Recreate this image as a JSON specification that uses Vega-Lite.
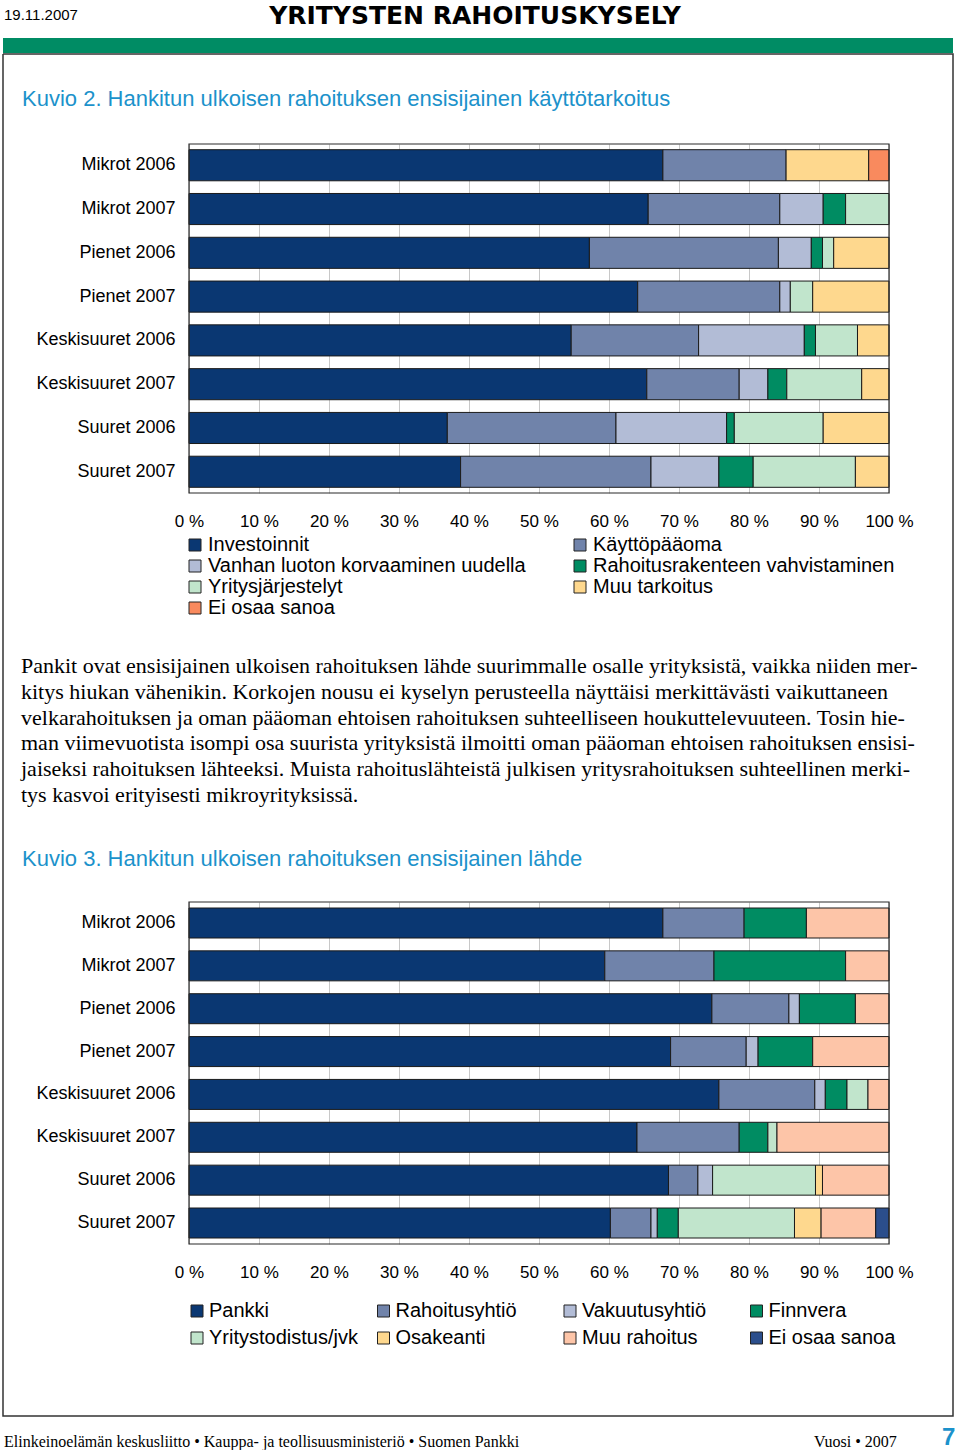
{
  "$schema": "https://vega.github.io/schema/vega-lite/v6.json",
  "background": "white",
  "padding": {"left": 2, "top": 0, "right": 0, "bottom": 0},
  "config": {"view": {"stroke": null}, "font": "Liberation Sans"},
  "datasets": {
    "jarjestys2": [
      {"kohde": "Investoinnit", "j": 1},
      {"kohde": "Käyttöpääoma", "j": 2},
      {"kohde": "Vanhan luoton korvaaminen uudella", "j": 3},
      {"kohde": "Rahoitusrakenteen vahvistaminen", "j": 4},
      {"kohde": "Yritysjärjestelyt", "j": 5},
      {"kohde": "Muu tarkoitus", "j": 6},
      {"kohde": "Ei osaa sanoa", "j": 7}
    ],
    "jarjestys3": [
      {"kohde": "Pankki", "j": 1},
      {"kohde": "Rahoitusyhtiö", "j": 2},
      {"kohde": "Vakuutusyhtiö", "j": 3},
      {"kohde": "Finnvera", "j": 4},
      {"kohde": "Yritystodistus/jvk", "j": 5},
      {"kohde": "Osakeanti", "j": 6},
      {"kohde": "Muu rahoitus", "j": 7},
      {"kohde": "Ei osaa sanoa", "j": 8}
    ],
    "kuvio2": [
      {"ryhma": "Mikrot 2006", "kohde": "Investoinnit", "osuus": 67.7},
      {"ryhma": "Mikrot 2006", "kohde": "Käyttöpääoma", "osuus": 17.6},
      {"ryhma": "Mikrot 2006", "kohde": "Muu tarkoitus", "osuus": 11.8},
      {"ryhma": "Mikrot 2006", "kohde": "Ei osaa sanoa", "osuus": 2.9},
      {"ryhma": "Mikrot 2007", "kohde": "Investoinnit", "osuus": 65.6},
      {"ryhma": "Mikrot 2007", "kohde": "Käyttöpääoma", "osuus": 18.8},
      {"ryhma": "Mikrot 2007", "kohde": "Vanhan luoton korvaaminen uudella", "osuus": 6.2},
      {"ryhma": "Mikrot 2007", "kohde": "Rahoitusrakenteen vahvistaminen", "osuus": 3.2},
      {"ryhma": "Mikrot 2007", "kohde": "Yritysjärjestelyt", "osuus": 6.2},
      {"ryhma": "Pienet 2006", "kohde": "Investoinnit", "osuus": 57.2},
      {"ryhma": "Pienet 2006", "kohde": "Käyttöpääoma", "osuus": 27.0},
      {"ryhma": "Pienet 2006", "kohde": "Vanhan luoton korvaaminen uudella", "osuus": 4.7},
      {"ryhma": "Pienet 2006", "kohde": "Rahoitusrakenteen vahvistaminen", "osuus": 1.6},
      {"ryhma": "Pienet 2006", "kohde": "Yritysjärjestelyt", "osuus": 1.6},
      {"ryhma": "Pienet 2006", "kohde": "Muu tarkoitus", "osuus": 7.9},
      {"ryhma": "Pienet 2007", "kohde": "Investoinnit", "osuus": 64.1},
      {"ryhma": "Pienet 2007", "kohde": "Käyttöpääoma", "osuus": 20.3},
      {"ryhma": "Pienet 2007", "kohde": "Vanhan luoton korvaaminen uudella", "osuus": 1.5},
      {"ryhma": "Pienet 2007", "kohde": "Yritysjärjestelyt", "osuus": 3.2},
      {"ryhma": "Pienet 2007", "kohde": "Muu tarkoitus", "osuus": 10.9},
      {"ryhma": "Keskisuuret 2006", "kohde": "Investoinnit", "osuus": 54.6},
      {"ryhma": "Keskisuuret 2006", "kohde": "Käyttöpääoma", "osuus": 18.2},
      {"ryhma": "Keskisuuret 2006", "kohde": "Vanhan luoton korvaaminen uudella", "osuus": 15.1},
      {"ryhma": "Keskisuuret 2006", "kohde": "Rahoitusrakenteen vahvistaminen", "osuus": 1.6},
      {"ryhma": "Keskisuuret 2006", "kohde": "Yritysjärjestelyt", "osuus": 6.0},
      {"ryhma": "Keskisuuret 2006", "kohde": "Muu tarkoitus", "osuus": 4.5},
      {"ryhma": "Keskisuuret 2007", "kohde": "Investoinnit", "osuus": 65.4},
      {"ryhma": "Keskisuuret 2007", "kohde": "Käyttöpääoma", "osuus": 13.2},
      {"ryhma": "Keskisuuret 2007", "kohde": "Vanhan luoton korvaaminen uudella", "osuus": 4.1},
      {"ryhma": "Keskisuuret 2007", "kohde": "Rahoitusrakenteen vahvistaminen", "osuus": 2.7},
      {"ryhma": "Keskisuuret 2007", "kohde": "Yritysjärjestelyt", "osuus": 10.7},
      {"ryhma": "Keskisuuret 2007", "kohde": "Muu tarkoitus", "osuus": 3.9},
      {"ryhma": "Suuret 2006", "kohde": "Investoinnit", "osuus": 36.9},
      {"ryhma": "Suuret 2006", "kohde": "Käyttöpääoma", "osuus": 24.1},
      {"ryhma": "Suuret 2006", "kohde": "Vanhan luoton korvaaminen uudella", "osuus": 15.8},
      {"ryhma": "Suuret 2006", "kohde": "Rahoitusrakenteen vahvistaminen", "osuus": 1.1},
      {"ryhma": "Suuret 2006", "kohde": "Yritysjärjestelyt", "osuus": 12.7},
      {"ryhma": "Suuret 2006", "kohde": "Muu tarkoitus", "osuus": 9.4},
      {"ryhma": "Suuret 2007", "kohde": "Investoinnit", "osuus": 38.8},
      {"ryhma": "Suuret 2007", "kohde": "Käyttöpääoma", "osuus": 27.2},
      {"ryhma": "Suuret 2007", "kohde": "Vanhan luoton korvaaminen uudella", "osuus": 9.7},
      {"ryhma": "Suuret 2007", "kohde": "Rahoitusrakenteen vahvistaminen", "osuus": 4.9},
      {"ryhma": "Suuret 2007", "kohde": "Yritysjärjestelyt", "osuus": 14.6},
      {"ryhma": "Suuret 2007", "kohde": "Muu tarkoitus", "osuus": 4.8}
    ],
    "kuvio3": [
      {"ryhma": "Mikrot 2006", "kohde": "Pankki", "osuus": 67.7},
      {"ryhma": "Mikrot 2006", "kohde": "Rahoitusyhtiö", "osuus": 11.6},
      {"ryhma": "Mikrot 2006", "kohde": "Finnvera", "osuus": 8.9},
      {"ryhma": "Mikrot 2006", "kohde": "Muu rahoitus", "osuus": 11.8},
      {"ryhma": "Mikrot 2007", "kohde": "Pankki", "osuus": 59.4},
      {"ryhma": "Mikrot 2007", "kohde": "Rahoitusyhtiö", "osuus": 15.6},
      {"ryhma": "Mikrot 2007", "kohde": "Finnvera", "osuus": 18.8},
      {"ryhma": "Mikrot 2007", "kohde": "Muu rahoitus", "osuus": 6.2},
      {"ryhma": "Pienet 2006", "kohde": "Pankki", "osuus": 74.7},
      {"ryhma": "Pienet 2006", "kohde": "Rahoitusyhtiö", "osuus": 11.0},
      {"ryhma": "Pienet 2006", "kohde": "Vakuutusyhtiö", "osuus": 1.5},
      {"ryhma": "Pienet 2006", "kohde": "Finnvera", "osuus": 8.0},
      {"ryhma": "Pienet 2006", "kohde": "Muu rahoitus", "osuus": 4.8},
      {"ryhma": "Pienet 2007", "kohde": "Pankki", "osuus": 68.8},
      {"ryhma": "Pienet 2007", "kohde": "Rahoitusyhtiö", "osuus": 10.8},
      {"ryhma": "Pienet 2007", "kohde": "Vakuutusyhtiö", "osuus": 1.7},
      {"ryhma": "Pienet 2007", "kohde": "Finnvera", "osuus": 7.8},
      {"ryhma": "Pienet 2007", "kohde": "Muu rahoitus", "osuus": 10.9},
      {"ryhma": "Keskisuuret 2006", "kohde": "Pankki", "osuus": 75.7},
      {"ryhma": "Keskisuuret 2006", "kohde": "Rahoitusyhtiö", "osuus": 13.7},
      {"ryhma": "Keskisuuret 2006", "kohde": "Vakuutusyhtiö", "osuus": 1.5},
      {"ryhma": "Keskisuuret 2006", "kohde": "Finnvera", "osuus": 3.1},
      {"ryhma": "Keskisuuret 2006", "kohde": "Yritystodistus/jvk", "osuus": 3.0},
      {"ryhma": "Keskisuuret 2006", "kohde": "Muu rahoitus", "osuus": 3.0},
      {"ryhma": "Keskisuuret 2007", "kohde": "Pankki", "osuus": 64.0},
      {"ryhma": "Keskisuuret 2007", "kohde": "Rahoitusyhtiö", "osuus": 14.6},
      {"ryhma": "Keskisuuret 2007", "kohde": "Finnvera", "osuus": 4.1},
      {"ryhma": "Keskisuuret 2007", "kohde": "Yritystodistus/jvk", "osuus": 1.3},
      {"ryhma": "Keskisuuret 2007", "kohde": "Muu rahoitus", "osuus": 16.0},
      {"ryhma": "Suuret 2006", "kohde": "Pankki", "osuus": 68.5},
      {"ryhma": "Suuret 2006", "kohde": "Rahoitusyhtiö", "osuus": 4.2},
      {"ryhma": "Suuret 2006", "kohde": "Vakuutusyhtiö", "osuus": 2.1},
      {"ryhma": "Suuret 2006", "kohde": "Yritystodistus/jvk", "osuus": 14.7},
      {"ryhma": "Suuret 2006", "kohde": "Osakeanti", "osuus": 1.0},
      {"ryhma": "Suuret 2006", "kohde": "Muu rahoitus", "osuus": 9.5},
      {"ryhma": "Suuret 2007", "kohde": "Pankki", "osuus": 60.2},
      {"ryhma": "Suuret 2007", "kohde": "Rahoitusyhtiö", "osuus": 5.8},
      {"ryhma": "Suuret 2007", "kohde": "Vakuutusyhtiö", "osuus": 0.9},
      {"ryhma": "Suuret 2007", "kohde": "Finnvera", "osuus": 3.0},
      {"ryhma": "Suuret 2007", "kohde": "Yritystodistus/jvk", "osuus": 16.6},
      {"ryhma": "Suuret 2007", "kohde": "Osakeanti", "osuus": 3.8},
      {"ryhma": "Suuret 2007", "kohde": "Muu rahoitus", "osuus": 7.8},
      {"ryhma": "Suuret 2007", "kohde": "Ei osaa sanoa", "osuus": 1.9}
    ]
  },
  "spacing": 0,
  "resolve": {"scale": {"x": "independent", "y": "independent", "color": "independent"}, "legend": {"color": "independent"}},
  "vconcat": [
    {
      "hconcat": [
        {
          "width": 240, "height": 38,
          "data": {"values": [{}]},
          "mark": {"type": "text", "text": ""},
          "encoding": {},
          "title": {"text": "19.11.2007", "anchor": "start", "frame": "group", "dx": 1, "offset": -35, "baseline": "alphabetic", "font": "Liberation Sans", "fontSize": 15, "fontWeight": "normal", "color": "black"}
        },
        {
          "width": 464, "height": 38,
          "data": {"values": [{}]},
          "mark": {"type": "text", "text": ""},
          "encoding": {},
          "title": {"text": "YRITYSTEN RAHOITUSKYSELY", "anchor": "middle", "frame": "group", "offset": -49, "baseline": "alphabetic", "font": "DejaVu Sans", "fontSize": 25, "fontWeight": "bold", "color": "black"}
        }
      ],
      "spacing": 0,
      "bounds": "flush"
    },
    {
      "width": 950, "height": 15,
      "data": {"values": [{}]},
      "mark": {"type": "text", "text": ""},
      "encoding": {},
      "view": {"fill": "#008C64", "stroke": null}
    },
    {
      "vconcat": [
        {
          "width": 950, "height": 90,
          "data": {"values": [{}]},
          "mark": {"type": "text", "text": ""},
          "encoding": {},
          "view": {"stroke": "#333333", "strokeWidth": 1.5, "strokeDash": [1040, 950, 90, 0]}
        },
        {
          "width": 950, "height": 349,
          "view": {"stroke": "#333333", "strokeWidth": 1.5, "strokeDash": [0, 950, 349, 950, 349, 0]},
          "title": {"text": "Kuvio 2. Hankitun ulkoisen rahoituksen ensisijainen käyttötarkoitus", "anchor": "start", "frame": "group", "dx": 19, "offset": 15, "baseline": "alphabetic", "font": "Liberation Sans", "fontSize": 22, "fontWeight": "normal", "color": "#1C92CB"},
          "layer": [
            {
              "data": {"name": "kuvio2"},
              "transform": [{"lookup": "kohde", "from": {"data": {"name": "jarjestys2"}, "key": "kohde", "fields": ["j"]}}],
              "mark": {"type": "bar", "stroke": "#1a1a1a", "strokeWidth": 1},
              "encoding": {
                "y": {"field": "ryhma", "type": "nominal", "sort": ["Mikrot 2006", "Mikrot 2007", "Pienet 2006", "Pienet 2007", "Keskisuuret 2006", "Keskisuuret 2007", "Suuret 2006", "Suuret 2007"], "scale": {"paddingInner": 0.29, "paddingOuter": 0.13}, "axis": {"title": null, "domain": false, "ticks": false, "tickSize": 0, "offset": -186, "labelPadding": 14, "labelFontSize": 18, "labelFont": "Liberation Sans", "labelColor": "black", "grid": false}},
                "x": {"field": "osuus", "type": "quantitative", "stack": "zero", "scale": {"domain": [-26.5714, 109.1429], "nice": false, "zero": false}, "axis": {"title": null, "values": [0, 10, 20, 30, 40, 50, 60, 70, 80, 90, 100], "labelExpr": "datum.value + ' %'", "grid": true, "gridColor": "#c8c8c8", "gridWidth": 1, "domain": false, "ticks": false, "tickSize": 0, "labelPadding": 20, "labelFontSize": 17, "labelFont": "Liberation Sans", "labelColor": "black", "labelFlush": false, "labelOverlap": false}},
                "order": {"field": "j", "type": "quantitative"},
                "color": {"field": "kohde", "type": "nominal", "sort": ["Investoinnit", "Käyttöpääoma", "Vanhan luoton korvaaminen uudella", "Rahoitusrakenteen vahvistaminen", "Yritysjärjestelyt", "Muu tarkoitus", "Ei osaa sanoa"], "scale": {"domain": ["Investoinnit", "Käyttöpääoma", "Vanhan luoton korvaaminen uudella", "Rahoitusrakenteen vahvistaminen", "Yritysjärjestelyt", "Muu tarkoitus", "Ei osaa sanoa"], "range": ["#0A3772", "#7083AA", "#B2BCD6", "#008C62", "#C1E5CC", "#FED88E", "#F98A5E"]}, "legend": {"title": null, "orient": "none", "direction": "horizontal", "legendX": 182, "legendY": 391, "columns": 2, "columnPadding": 44, "rowPadding": 1, "padding": 0, "symbolType": "square", "symbolSize": 144, "symbolStrokeColor": "#222222", "symbolStrokeWidth": 1, "symbolOpacity": 1, "labelFontSize": 20, "labelFont": "Liberation Sans", "labelColor": "black", "labelOffset": 3, "labelLimit": 600}}
              }
            },
            {
              "data": {"values": [{}]},
              "mark": {"type": "rect", "fill": "transparent", "stroke": "#2a2a2a", "strokeWidth": 1.2},
              "encoding": {"x": {"datum": 0}, "x2": {"datum": 100}}
            }
          ]
        },
        {
          "width": 950, "height": 409,
          "data": {"values": [{}]},
          "mark": {"type": "text", "text": ""},
          "encoding": {},
          "view": {"stroke": "#333333", "strokeWidth": 1.5, "strokeDash": [0, 950, 409, 950, 409, 0]},
          "title": {
            "text": [
              "Pankit ovat ensisijainen ulkoisen rahoituksen lähde suurimmalle osalle yrityksistä, vaikka niiden mer-",
              "kitys hiukan vähenikin. Korkojen nousu ei kyselyn perusteella näyttäisi merkittävästi vaikuttaneen",
              "velkarahoituksen ja oman pääoman ehtoisen rahoituksen suhteelliseen houkuttelevuuteen. Tosin hie-",
              "man viimevuotista isompi osa suurista yrityksistä ilmoitti oman pääoman ehtoisen rahoituksen ensisi-",
              "jaiseksi rahoituksen lähteeksi. Muista rahoituslähteistä julkisen yritysrahoituksen suhteellinen merki-",
              "tys kasvoi erityisesti mikroyrityksissä."
            ],
            "anchor": "start", "frame": "group", "dx": 18, "offset": -314, "baseline": "top", "lineHeight": 25.8,
            "font": "Liberation Serif", "fontSize": 22, "fontWeight": "normal", "color": "black"
          }
        },
        {
          "width": 950, "height": 342,
          "view": {"stroke": "#333333", "strokeWidth": 1.5, "strokeDash": [0, 950, 342, 950, 342, 0]},
          "title": {"text": "Kuvio 3. Hankitun ulkoisen rahoituksen ensisijainen lähde", "anchor": "start", "frame": "group", "dx": 19, "offset": 13, "baseline": "alphabetic", "font": "Liberation Sans", "fontSize": 22, "fontWeight": "normal", "color": "#1C92CB"},
          "layer": [
            {
              "data": {"name": "kuvio3"},
              "transform": [{"lookup": "kohde", "from": {"data": {"name": "jarjestys3"}, "key": "kohde", "fields": ["j"]}}],
              "mark": {"type": "bar", "stroke": "#1a1a1a", "strokeWidth": 1},
              "encoding": {
                "y": {"field": "ryhma", "type": "nominal", "sort": ["Mikrot 2006", "Mikrot 2007", "Pienet 2006", "Pienet 2007", "Keskisuuret 2006", "Keskisuuret 2007", "Suuret 2006", "Suuret 2007"], "scale": {"paddingInner": 0.3, "paddingOuter": 0.14}, "axis": {"title": null, "domain": false, "ticks": false, "tickSize": 0, "offset": -186, "labelPadding": 14, "labelFontSize": 18, "labelFont": "Liberation Sans", "labelColor": "black", "grid": false}},
                "x": {"field": "osuus", "type": "quantitative", "stack": "zero", "scale": {"domain": [-26.5714, 109.1429], "nice": false, "zero": false}, "axis": {"title": null, "values": [0, 10, 20, 30, 40, 50, 60, 70, 80, 90, 100], "labelExpr": "datum.value + ' %'", "grid": true, "gridColor": "#c8c8c8", "gridWidth": 1, "domain": false, "ticks": false, "tickSize": 0, "labelPadding": 20, "labelFontSize": 17, "labelFont": "Liberation Sans", "labelColor": "black", "labelFlush": false, "labelOverlap": false}},
                "order": {"field": "j", "type": "quantitative"},
                "color": {"field": "kohde", "type": "nominal", "sort": ["Pankki", "Rahoitusyhtiö", "Vakuutusyhtiö", "Finnvera", "Yritystodistus/jvk", "Osakeanti", "Muu rahoitus", "Ei osaa sanoa"], "scale": {"domain": ["Pankki", "Rahoitusyhtiö", "Vakuutusyhtiö", "Finnvera", "Yritystodistus/jvk", "Osakeanti", "Muu rahoitus", "Ei osaa sanoa"], "range": ["#0A3772", "#7083AA", "#B2BCD6", "#008C62", "#C1E5CC", "#FED88E", "#FDC5A8", "#2B4E8C"]}, "legend": {"title": null, "orient": "none", "direction": "horizontal", "legendX": 184, "legendY": 399, "columns": 4, "gridAlign": "all", "columnPadding": 15.5, "rowPadding": 7, "padding": 0, "symbolType": "square", "symbolSize": 144, "symbolStrokeColor": "#222222", "symbolStrokeWidth": 1, "symbolOpacity": 1, "labelFontSize": 20, "labelFont": "Liberation Sans", "labelColor": "black", "labelOffset": 2, "labelLimit": 600}}
              }
            },
            {
              "data": {"values": [{}]},
              "mark": {"type": "rect", "fill": "transparent", "stroke": "#2a2a2a", "strokeWidth": 1.2},
              "encoding": {"x": {"datum": 0}, "x2": {"datum": 100}}
            }
          ]
        },
        {
          "width": 950, "height": 172,
          "data": {"values": [{}]},
          "mark": {"type": "text", "text": ""},
          "encoding": {},
          "view": {"stroke": "#333333", "strokeWidth": 1.5, "strokeDash": [0, 950, 1294, 0]}
        }
      ],
      "spacing": 0,
      "bounds": "flush",
      "resolve": {"scale": {"x": "independent", "y": "independent", "color": "independent"}, "legend": {"color": "independent"}}
    },
    {
      "hconcat": [
        {
          "width": 811, "height": 35,
          "data": {"values": [{}]},
          "mark": {"type": "text", "text": ""},
          "encoding": {},
          "title": {"text": "Elinkeinoelämän keskusliitto • Kauppa- ja teollisuusministeriö • Suomen Pankki", "anchor": "start", "frame": "group", "dx": 1, "offset": -46, "baseline": "alphabetic", "font": "Liberation Serif", "fontSize": 16, "fontWeight": "normal", "color": "black"}
        },
        {
          "width": 128, "height": 35,
          "data": {"values": [{}]},
          "mark": {"type": "text", "text": ""},
          "encoding": {},
          "title": {"text": "Vuosi • 2007", "anchor": "start", "frame": "group", "offset": -46, "baseline": "alphabetic", "font": "Liberation Serif", "fontSize": 16, "fontWeight": "normal", "color": "black"}
        },
        {
          "width": 11, "height": 35,
          "data": {"values": [{}]},
          "mark": {"type": "text", "text": ""},
          "encoding": {},
          "title": {"text": "7", "anchor": "start", "frame": "group", "offset": -52, "baseline": "alphabetic", "font": "Liberation Sans", "fontSize": 24, "fontWeight": "bold", "color": "#1C92CB"}
        }
      ],
      "spacing": 0,
      "bounds": "flush"
    }
  ]
}
